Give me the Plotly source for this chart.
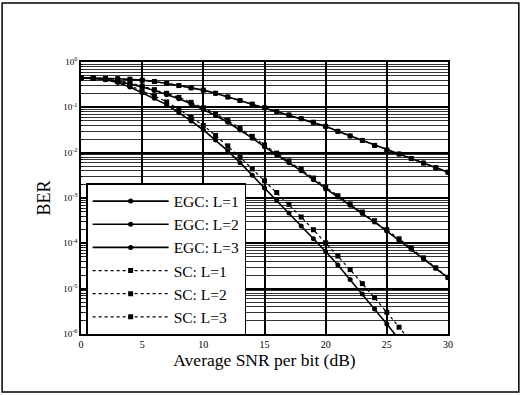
import plotly.graph_objects as go

snr_db = list(range(0, 31))

# log10(BER)
egc_l1_log = [-0.35, -0.35, -0.36, -0.37, -0.38, -0.40, -0.43, -0.47, -0.52, -0.57, -0.62,
              -0.69, -0.77, -0.85, -0.93, -1.01, -1.09, -1.17, -1.25, -1.33, -1.42,
              -1.53, -1.63, -1.73, -1.84, -1.94, -2.03, -2.13, -2.23, -2.33, -2.43]
egc_l2_log = [-0.35, -0.36, -0.38, -0.42, -0.48, -0.55, -0.63, -0.72, -0.81, -0.92, -1.05,
              -1.18, -1.33, -1.50, -1.68, -1.87, -2.05, -2.22, -2.40, -2.60, -2.80,
              -2.98, -3.16, -3.34, -3.53, -3.73, -3.93, -4.13, -4.34, -4.55, -4.76]
egc_l3_log = [-0.35, -0.36, -0.39, -0.45, -0.55, -0.68, -0.80, -0.94, -1.12, -1.30, -1.50,
              -1.72, -1.96, -2.22, -2.50, -2.78, -3.05, -3.33, -3.62, -3.90, -4.18,
              -4.48, -4.80, -5.12, -5.45, -5.78, -6.12]
sc_l1_log = [-0.35, -0.35, -0.36, -0.37, -0.38, -0.40, -0.43, -0.47, -0.52, -0.57, -0.62,
             -0.69, -0.77, -0.85, -0.93, -1.01, -1.09, -1.17, -1.25, -1.33, -1.42,
             -1.53, -1.63, -1.73, -1.84, -1.94, -2.03, -2.13, -2.23, -2.33, -2.43]
sc_l2_log = [-0.35, -0.36, -0.37, -0.41, -0.46, -0.53, -0.61, -0.69, -0.78, -0.89, -1.01,
             -1.14, -1.29, -1.46, -1.64, -1.83, -2.01, -2.18, -2.36, -2.56, -2.76,
             -2.95, -3.13, -3.31, -3.50, -3.70, -3.90, -4.11, -4.32, -4.54, -4.75]
sc_l3_log = [-0.35, -0.36, -0.38, -0.43, -0.52, -0.64, -0.75, -0.88, -1.04, -1.22, -1.40,
             -1.62, -1.85, -2.10, -2.36, -2.62, -2.88, -3.14, -3.42, -3.70, -3.99,
             -4.28, -4.58, -4.89, -5.20, -5.52, -5.85, -6.18]

series = [
    ("EGC: L=1", egc_l1_log, "solid", "circle"),
    ("EGC: L=2", egc_l2_log, "solid", "circle"),
    ("EGC: L=3", egc_l3_log, "solid", "circle"),
    ("SC: L=1", sc_l1_log, "dot", "square"),
    ("SC: L=2", sc_l2_log, "dot", "square"),
    ("SC: L=3", sc_l3_log, "dot", "square"),
]

y_tick_vals = [1e-6, 1e-5, 1e-4, 1e-3, 1e-2, 1e-1, 1]
y_tick_text = ["10<sup>-6</sup>", "10<sup>-5</sup>", "10<sup>-4</sup>", "10<sup>-3</sup>",
               "10<sup>-2</sup>", "10<sup>-1</sup>", "10<sup>0</sup>"]
x_tick_vals = [0, 5, 10, 15, 20, 25, 30]
minor_y = [k * 10.0 ** e for e in range(-6, 0) for k in range(2, 10)]

fig = go.Figure()
for name, logs, dash, sym in series:
    xs = snr_db[:len(logs)]
    ys = [10 ** v for v in logs]
    fig.add_trace(go.Scatter(
        x=xs, y=ys, name=name, mode="lines+markers",
        line=dict(color="black", width=1.6 if dash == "solid" else 1.2, dash=dash),
        marker=dict(color="black", size=5, symbol=sym),
    ))

serif = "Liberation Serif"
fig.update_layout(
    width=521, height=395,
    margin=dict(l=81, r=73, t=62, b=61),
    paper_bgcolor="white", plot_bgcolor="white",
    font=dict(family=serif, color="black"),
    showlegend=True,
    legend=dict(x=0.014, y=0.555, xanchor="left", yanchor="top",
                bgcolor="white", bordercolor="black", borderwidth=1.5,
                font=dict(family=serif, size=15.5, color="black"),
                tracegroupgap=0, itemwidth=76),
    xaxis=dict(range=[0, 30], tickvals=x_tick_vals, showgrid=True,
               gridcolor="black", gridwidth=1.5, zeroline=False,
               showline=True, linecolor="black", linewidth=1.5, mirror=True,
               ticks="inside", ticklen=4, tickcolor="black",
               tickfont=dict(family=serif, size=10, color="black"),
               title=dict(text="Average SNR per bit (dB)", standoff=3,
                          font=dict(family=serif, size=17.5, color="black"))),
    yaxis=dict(type="log", range=[-6, 0], tickvals=y_tick_vals, ticktext=y_tick_text,
               showgrid=True, gridcolor="black", gridwidth=1.5, zeroline=False,
               showline=True, linecolor="black", linewidth=1.5, mirror=True,
               ticks="inside", ticklen=4, tickcolor="black",
               tickfont=dict(family=serif, size=9, color="black"),
               minor=dict(tickvals=minor_y, showgrid=True, gridcolor="#333333",
                          gridwidth=1, ticks="inside", ticklen=2, tickcolor="black"),
               title=dict(text="BER", standoff=8,
                          font=dict(family=serif, size=18, color="black"))),
)

fig.add_shape(type="rect", xref="paper", yref="paper",
              x0=-0.215, x1=1.193, y0=-0.213, y1=1.217,
              line=dict(color="black", width=1.5), fillcolor="rgba(0,0,0,0)")

fig.write_html("out.html", config={"displayModeBar": False},
               post_script="document.body.style.margin='0';document.body.style.overflow='hidden';")
